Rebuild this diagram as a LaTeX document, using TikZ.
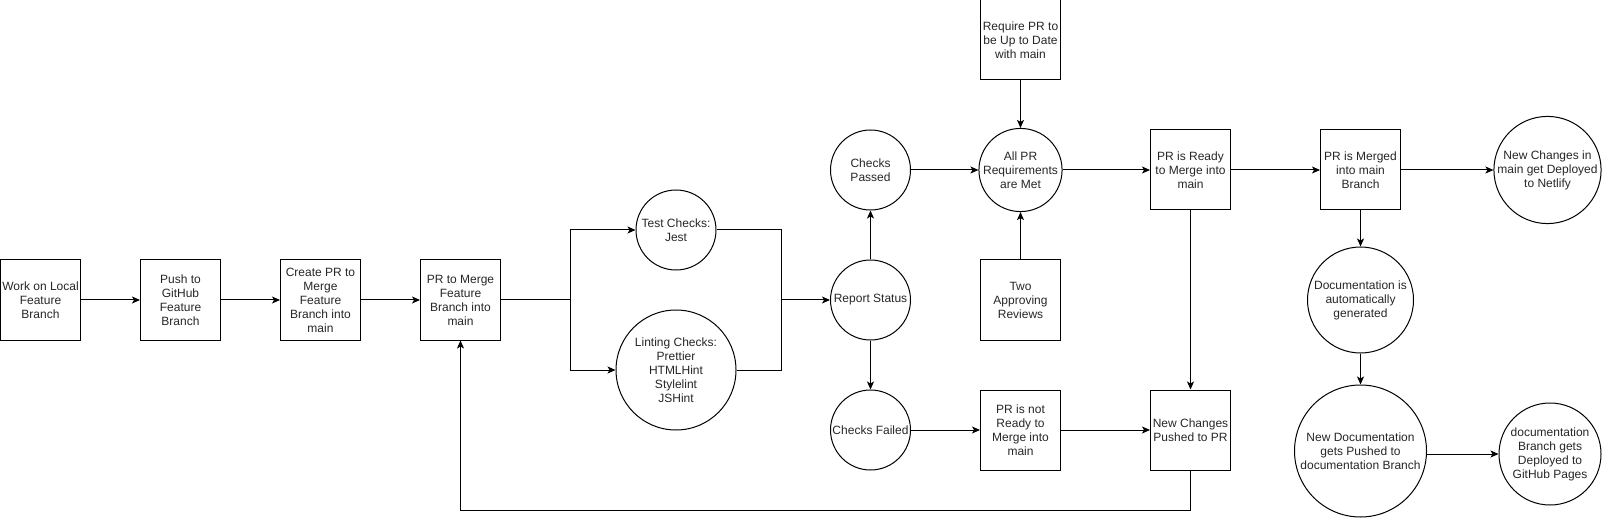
\documentclass[tikz,border=0pt]{standalone}
\usepackage{fontspec}
\setmainfont{Liberation Sans}
\usetikzlibrary{arrows.meta}
\begin{document}
\begin{tikzpicture}[x=1pt,y=-1pt,
  every node/.style={font=\fontsize{12}{14}\selectfont, align=center, inner sep=0pt, text=black!85},
  boxnode/.style={draw, line width=1pt, minimum width=80pt, minimum height=80pt},
  circ/.style={draw, line width=1pt, circle, minimum size=#1},
  conn/.style={line width=1pt, -{Stealth[length=8pt,width=7pt,inset=2pt]}},
  plain/.style={line width=1pt}]
\useasboundingbox (0,0) rectangle (1606,521);
% left chain
\node[boxnode] (work) at (40.5,300) {Work on Local\\Feature\\Branch};
\node[boxnode] (push) at (180.5,300) {Push to\\GitHub\\Feature\\Branch};
\node[boxnode] (create) at (320.5,300) {Create PR to\\Merge\\Feature\\Branch into\\main};
\node[boxnode] (prm) at (460.5,300) {PR to Merge\\Feature\\Branch into\\main};
% checks
\node[circ=80pt] (test) at (676,230) {Test Checks:\\Jest};
\node[circ=120pt] (lint) at (676,370) {Linting Checks:\\Prettier\\HTMLHint\\Stylelint\\JSHint};
\node[circ=80pt] (report) at (870.5,300) {Report Status};
\node[circ=80pt] (passed) at (870.5,170) {Checks\\Passed};
\node[circ=80pt] (failed) at (870.5,430) {Checks Failed};
% requirements
\node[boxnode] (req) at (1020.5,40) {Require PR to\\be Up to Date\\with main};
\node[circ=80pt] (allpr) at (1020.5,170) {All PR\\Requirements\\are Met};
\node[boxnode] (two) at (1020.5,300) {Two\\Approving\\Reviews};
\node[boxnode] (notready) at (1020.5,430) {PR is not\\Ready to\\Merge into\\main};
\node[boxnode] (ready) at (1190.5,170) {PR is Ready\\to Merge into\\main};
\node[boxnode] (newch) at (1190.5,430) {New Changes\\Pushed to PR};
% deploy
\node[boxnode] (merged) at (1360.5,170) {PR is Merged\\into main\\Branch};
\node[circ=106pt] (netlify) at (1547.5,170) {New Changes in\\main get Deployed\\to Netlify};
\node[circ=106pt] (doc) at (1360.5,300) {Documentation is\\automatically\\generated};
\node[circ=132pt] (newdoc) at (1360.5,451) {New Documentation\\gets Pushed to\\documentation Branch};
\node[circ=102pt] (ghp) at (1550,454) {documentation\\Branch gets\\Deployed to\\GitHub Pages};
% junctions
\coordinate (j1) at (570.5,300);
\coordinate (j2) at (781.5,300);
% connectors
\draw[conn] (work) -- (push);
\draw[conn] (push) -- (create);
\draw[conn] (create) -- (prm);
\draw[plain] (prm.east) -- (j1);
\draw[conn] (j1) |- (test.west);
\draw[conn] (j1) |- (lint.west);
\draw[plain] (test.east) -| (j2);
\draw[plain] (lint.east) -| (j2);
\draw[conn] (j2) -- (report.west);
\draw[conn] (report) -- (passed);
\draw[conn] (report) -- (failed);
\draw[conn] (passed) -- (allpr);
\draw[conn] (req) -- (allpr);
\draw[conn] (two) -- (allpr);
\draw[conn] (allpr) -- (ready);
\draw[conn] (failed) -- (notready);
\draw[conn] (notready) -- (newch);
\draw[conn] (ready) -- (newch);
\draw[conn] (newch.south) -- ++(0,40) -| (prm.south);
\draw[conn] (ready) -- (merged);
\draw[conn] (merged) -- (netlify);
\draw[conn] (merged) -- (doc);
\draw[conn] (doc) -- (newdoc);
\draw[conn] (newdoc.east |- ghp.west) -- (ghp.west);
\end{tikzpicture}
\end{document}
